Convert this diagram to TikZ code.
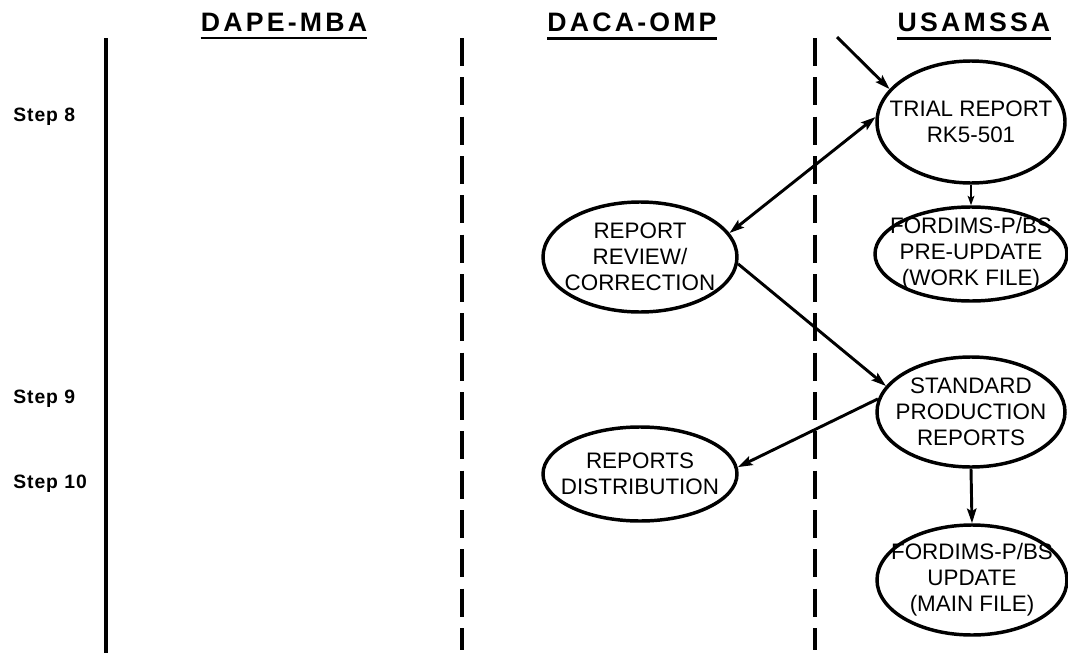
\documentclass[tikz,border=0pt]{standalone}
\usepackage{fontspec}
\setmainfont{Liberation Sans}
\newfontfamily\hdrfont[LetterSpace=12]{Liberation Sans}
\newfontfamily\stepfont[LetterSpace=5]{Liberation Sans}
\usetikzlibrary{shapes.geometric,arrows.meta}

\begin{document}
\begin{tikzpicture}[x=0.75pt,y=-0.75pt,
  lane/.style={line width=2.6pt},
  dashlane/.style={line width=2.6pt, dash pattern=on 21pt off 8.5pt},
  hdr/.style={font=\hdrfont\bfseries\fontsize{20}{23}\selectfont, inner sep=0pt},
  steplbl/.style={font=\stepfont\bfseries\fontsize{14.5}{17}\selectfont, inner sep=0pt, anchor=base west},
  ell/.style={draw, ellipse, line width=2.6pt, inner sep=0pt},
  etxt/.style={font=\fontsize{16.8}{19.5}\selectfont, align=center, inner sep=0pt},
  tip/.tip={Stealth[length=11pt,width=7pt,inset=2pt]},
  flow/.style={line width=2.2pt, -tip},
  thinflow/.style={line width=1.4pt, -{Stealth[length=7pt,width=5pt,inset=1.5pt]}}
]
\useasboundingbox (0,0) rectangle (1068,653);

% swim-lane dividers
\draw[lane] (106,38) -- (106,653);
\draw[dashlane] (462,38) -- (462,650);
\draw[dashlane] (815,38) -- (815,650);

% lane headings, underlined
\node[hdr] (h1) at (284,22) {DAPE-MBA};
\node[hdr] (h2) at (632,22) {DACA-OMP};
\node[hdr] (h3) at (974,22) {USAMSSA};
\foreach \h in {h1,h2,h3}
  \draw[line width=1.8pt] ([yshift=-5pt]\h.south west) -- ([yshift=-5pt]\h.south east);

% step labels
\node[steplbl] (s8) at (13,121) {Step 8};
\node[steplbl] (s9) at (13,403) {Step 9};
\node[steplbl] (s10) at (13,488) {Step 10};

% process ellipses
\node[ell, minimum width=141pt, minimum height=91.5pt] (trial) at (971,122) {};
\node[etxt] (trial-t) at (trial) {TRIAL REPORT\\RK5-501};

\node[ell, minimum width=144pt, minimum height=70.5pt] (pre) at (971,254) {};
\node[etxt] (pre-t) at (pre) {FORDIMS-P/BS\\PRE-UPDATE\\(WORK FILE)};

\node[ell, minimum width=145.5pt, minimum height=82.5pt] (review) at (640,257) {};
\node[etxt] (review-t) at (review) {REPORT\\REVIEW/\\CORRECTION};

\node[ell, minimum width=141pt, minimum height=82.5pt] (std) at (971,412) {};
\node[etxt] (std-t) at (std) {STANDARD\\PRODUCTION\\REPORTS};

\node[ell, minimum width=145.5pt, minimum height=70.5pt] (distr) at (640,474) {};
\node[etxt] (distr-t) at (distr) {REPORTS\\DISTRIBUTION};

\node[ell, minimum width=142.5pt, minimum height=82.5pt] (upd) at (972,580) {};
\node[etxt] (upd-t) at (upd) {FORDIMS-P/BS\\UPDATE\\(MAIN FILE)};

% connectors
\coordinate (src) at (837,37);
\draw[flow] (src) -- (trial.158);
\draw[flow, tip-tip] (review.15) -- (trial.177);
\draw[thinflow] (trial.south) -- (pre.north);
\draw[flow] (review.-4) -- (std.163);
\draw[flow] (std.172) -- (distr.4);
\draw[flow] (std.south) -- (upd.north);
\end{tikzpicture}
\end{document}
